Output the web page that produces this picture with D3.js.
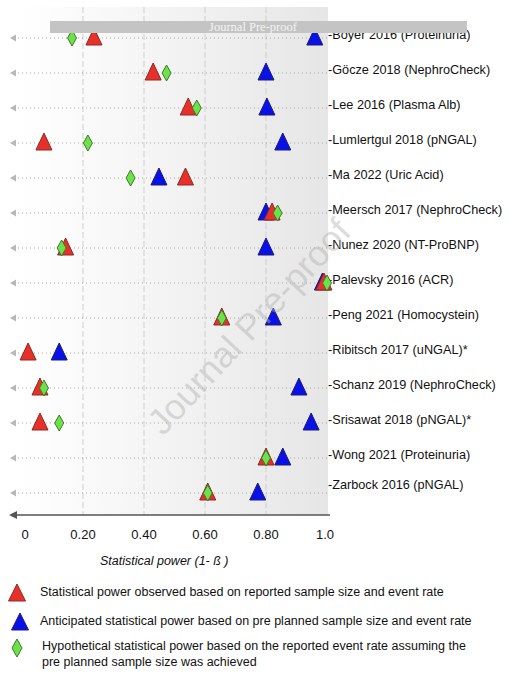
<!DOCTYPE html>
<html>
<head>
<meta charset="utf-8">
<script src="https://cdn.jsdelivr.net/npm/d3@7"></script>
<style>
  body { margin: 0; background: #fff; }
  svg { display: block; font-family: "Liberation Sans", Arial, sans-serif; }
</style>
</head>
<body>
<div id="chart"></div>
<script>
// Data
const studies = [
  'Boyer 2016 (Proteinuria)', 'Göcze 2018 (NephroCheck)', 'Lee 2016 (Plasma Alb)',
  'Lumlertgul 2018 (pNGAL)', 'Ma 2022 (Uric Acid)', 'Meersch 2017 (NephroCheck)',
  'Nunez 2020 (NT-ProBNP)', 'Palevsky 2016 (ACR)', 'Peng 2021 (Homocystein)',
  'Ribitsch 2017 (uNGAL)*', 'Schanz 2019 (NephroCheck)', 'Srisawat 2018 (pNGAL)*',
  'Wong 2021 (Proteinuria)', 'Zarbock 2016 (pNGAL)'
]
const observed = [0.236, 0.43, 0.545, 0.072, 0.536, 0.82, 0.143, 0.99, 0.655, 0.02, 0.059, 0.059, 0.80, 0.609]
const anticipated = [0.96, 0.80, 0.803, 0.855, 0.449, 0.80, 0.80, 0.985, 0.824, 0.122, 0.908, 0.948, 0.855, 0.773]
const hypothetical = [0.164, 0.474, 0.573, 0.216, 0.356, 0.838, 0.13, 1.0, 0.655, null, 0.072, 0.122, 0.80, 0.609]
const tickValues = [0, 0.2, 0.4, 0.6, 0.8, 1.0]
const tickLabels = ['0', '0.20', '0.40', '0.60', '0.80', '1.0']
const legendLabels = [
  ['Statistical power observed based on reported sample size and event rate'],
  ['Anticipated statistical power based on pre planned sample size and event rate'],
  ['Hypothetical statistical power based on the reported event rate assuming the',
   'pre planned sample size was achieved']
]

// Dimensions
const dims = { width: 511, height: 680, left: 10, plotRight: 328, top: 7, axisY: 515 }

const svg = d3.select('#chart')
  .append('svg')
  .attr('width', dims.width)
  .attr('height', dims.height)

// Scales
const xScale = d3.scaleLinear().domain([0, 1]).range([22, 327])
const yScale = d3.scalePoint().domain(studies).range([38, 493])

// Background gradient
const defs = svg.append('defs')
const grad = defs.append('linearGradient').attr('id', 'bg')
grad.append('stop').attr('offset', '0%').attr('stop-color', '#ffffff')
grad.append('stop').attr('offset', '12%').attr('stop-color', '#fdfdfd')
grad.append('stop').attr('offset', '100%').attr('stop-color', '#e6e6e6')

svg.append('rect')
  .attr('x', dims.left)
  .attr('y', dims.top)
  .attr('width', dims.plotRight - dims.left)
  .attr('height', dims.axisY - dims.top)
  .attr('fill', 'url(#bg)')

// Grid
svg.append('g')
  .selectAll('line')
  .data(tickValues.slice(1, 5))
  .join('line')
  .attr('x1', d => xScale(d))
  .attr('x2', d => xScale(d))
  .attr('y1', dims.top)
  .attr('y2', dims.axisY)
  .attr('stroke', '#cfcfcf')
  .attr('stroke-dasharray', '6,3')

// Row lines + left arrow heads
const rows = svg.append('g')
rows.selectAll('line')
  .data(studies)
  .join('line')
  .attr('x1', 18)
  .attr('x2', 329)
  .attr('y1', d => yScale(d))
  .attr('y2', d => yScale(d))
  .attr('stroke', '#a8a8a8')
  .attr('stroke-dasharray', '1,3')

rows.selectAll('path')
  .data(studies)
  .join('path')
  .attr('d', d => `M10,${yScale(d)} L16,${yScale(d) - 3.5} L16,${yScale(d) + 3.5} Z`)
  .attr('fill', '#b8b8b8')

// Study labels
svg.append('g')
  .selectAll('text')
  .data(studies)
  .join('text')
  .attr('x', 328)
  .attr('y', (d, i) => yScale(d) + (i === studies.length - 1 ? -4 : 1))
  .attr('font-size', 12.7)
  .attr('fill', '#111')
  .text(d => '-' + d)

// Marker shapes
const triangle = (x, y) => `M${x},${y - 10} L${x + 8},${y + 7} L${x - 8},${y + 7} Z`
const diamond = (x, y) => `M${x},${y - 8} L${x + 4.5},${y} L${x},${y + 8} L${x - 4.5},${y} Z`

const series = [
  { values: anticipated, shape: triangle, fill: '#0a10e8', stroke: '#1c1c70' },
  { values: observed, shape: triangle, fill: '#e8302a', stroke: '#8a2b22' },
  { values: hypothetical, shape: diamond, fill: '#6ee04a', stroke: '#3c7a2c' }
]

series.forEach(s => {
  svg.append('g')
    .selectAll('path')
    .data(studies.map((name, i) => ({ name, v: s.values[i] })).filter(d => d.v !== null))
    .join('path')
    .attr('d', d => s.shape(xScale(d.v), yScale(d.name)))
    .attr('fill', s.fill)
    .attr('stroke', s.stroke)
    .attr('stroke-width', 1)
})

// X axis
svg.append('line')
  .attr('x1', 16)
  .attr('x2', 330)
  .attr('y1', dims.axisY)
  .attr('y2', dims.axisY)
  .attr('stroke', '#555')
  .attr('stroke-width', 1.5)
svg.append('path')
  .attr('d', `M9,${dims.axisY} L17,${dims.axisY - 4} L17,${dims.axisY + 4} Z`)
  .attr('fill', '#555')

svg.append('g')
  .selectAll('text')
  .data(tickValues)
  .join('text')
  .attr('x', (d, i) => xScale(d) + (i === 0 ? 3 : i === 5 ? -2 : 0))
  .attr('y', 539)
  .attr('text-anchor', 'middle')
  .attr('font-size', 13)
  .attr('fill', '#111')
  .text((d, i) => tickLabels[i])

svg.append('text')
  .attr('x', 100)
  .attr('y', 565)
  .attr('font-size', 12.5)
  .attr('font-style', 'italic')
  .attr('fill', '#111')
  .text('Statistical power (1- ß )')

// Legend
const legendY = [593, 622, 648]
const legendShapes = [series[1], series[0], series[2]]
const legendX = [17, 20, 17]
legendLabels.forEach((lines, i) => {
  const s = legendShapes[i]
  const y = legendY[i]
  const path = s.shape === diamond
    ? `M${legendX[i]},${y - 9} L${legendX[i] + 5},${y} L${legendX[i]},${y + 9} L${legendX[i] - 5},${y} Z`
    : `M${legendX[i]},${y - 9} L${legendX[i] + 8.5},${y + 8} L${legendX[i] - 8.5},${y + 8} Z`
  svg.append('path')
    .attr('d', path)
    .attr('fill', s.fill)
    .attr('stroke', s.stroke)
  const t = svg.append('text')
    .attr('font-size', 12.5)
    .attr('fill', '#111')
  lines.forEach((line, j) => {
    t.append('tspan')
      .attr('x', i === 2 ? 42 : 40)
      .attr('y', y + 3 + j * 16 - (lines.length > 1 ? 1 : 0))
      .text(line)
  })
})

// Watermarks
svg.append('text')
  .attr('transform', 'translate(258,335) rotate(-47)')
  .attr('text-anchor', 'middle')
  .attr('font-size', 36)
  .attr('fill', '#b0b0b0')
  .attr('fill-opacity', 0.45)
  .text('Journal Pre-proof')

svg.append('rect')
  .attr('x', 50)
  .attr('y', 21)
  .attr('width', 417)
  .attr('height', 12)
  .attr('fill', '#c4c4c4')
svg.append('text')
  .attr('x', 253)
  .attr('y', 31)
  .attr('text-anchor', 'middle')
  .attr('font-family', '"Liberation Serif", "DejaVu Serif", serif')
  .attr('font-size', 12.5)
  .attr('fill', '#f4f4f4')
  .text('Journal Pre-proof')
</script>
</body>
</html>
